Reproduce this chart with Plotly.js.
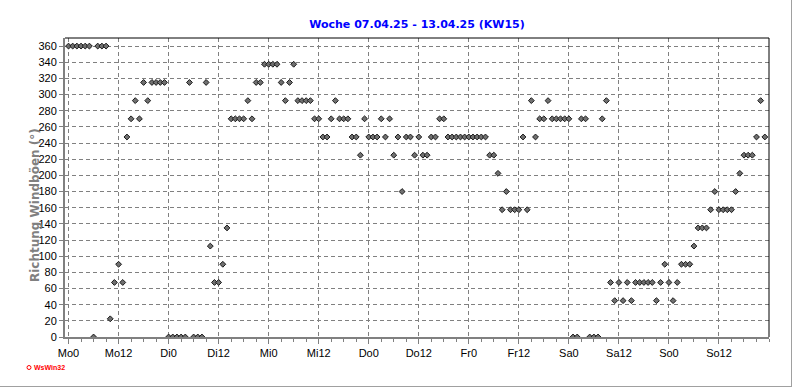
<!DOCTYPE html>
<html>
<head>
<meta charset="utf-8">
<script src="https://cdn.plot.ly/plotly-3.0.1.min.js"></script>
<style>
  html, body { margin:0; padding:0; background:#fff; }
  #wrap { position:relative; width:792px; height:387px; }
  #chart { position:absolute; left:0; top:0; width:792px; height:387px; }
  #frame { position:absolute; left:0; top:0; width:791px; height:386px;
           border-right:1px solid #a0a0a0; border-bottom:1px solid #a0a0a0; pointer-events:none; }
</style>
</head>
<body>
<div id="wrap"><div id="chart"></div><div id="frame"></div></div>
<script>
// Hourly gust direction (degrees), one array per day, hours 0..23
const dayNames = ["Mo", "Di", "Mi", "Do", "Fr", "Sa", "So"];
const mo = [360,360,360,360,360,360,0,360,360,360,22.5,67.5,90,67.5,247.5,270,292.5,270,315,292.5,315,315,315,315];
const di = [0,0,0,0,0,315,0,0,0,315,112.5,67.5,67.5,90,135,270,270,270,270,292.5,270,315,315,337.5];
const mi = [337.5,337.5,337.5,315,292.5,315,337.5,292.5,292.5,292.5,292.5,270,270,247.5,247.5,270,292.5,270,270,270,247.5,247.5,225,270];
const dn = [247.5,247.5,247.5,270,247.5,270,225,247.5,180,247.5,247.5,225,247.5,225,225,247.5,247.5,270,270,247.5,247.5,247.5,247.5,247.5];
const fr = [247.5,247.5,247.5,247.5,247.5,225,225,202.5,157.5,180,157.5,157.5,157.5,247.5,157.5,292.5,247.5,270,270,292.5,270,270,270,270];
const sa = [270,0,0,270,270,0,0,0,270,292.5,67.5,45,67.5,45,67.5,45,67.5,67.5,67.5,67.5,67.5,45,67.5,90];
const so = [67.5,45,67.5,90,90,90,112.5,135,135,135,157.5,180,157.5,157.5,157.5,157.5,180,202.5,225,225,225,247.5,292.5,247.5];
const tickHours = [0,12,24,36,48,60,72,84,96,108,120,132,144,156];
const tickLabels = ["Mo0","Mo12","Di0","Di12","Mi0","Mi12","Do0","Do12","Fr0","Fr12","Sa0","Sa12","So0","So12"];
const yTicks = [0,20,40,60,80,100,120,140,160,180,200,220,240,260,280,300,320,340,360];

const days = [mo, di, mi, dn, fr, sa, so];
const xs = [], ys = [];
days.forEach((arr, d) => arr.forEach((v, h) => { xs.push(d * 24 + h); ys.push(v); }));

const L = 65, R = 23, T = 38, B = 50;
const W = 792, H = 387;
const pw = W - L - R, ph = H - T - B;
const px = x => (x - L) / pw;
const py = y => (H - B - y) / ph;

const font = "Liberation Sans, Arial, sans-serif";
const boldFont = "DejaVu Sans, Verdana, sans-serif";

const trace = {
  x: xs, y: ys, type: "scatter", mode: "markers",
  marker: { symbol: "diamond", size: 4.5, color: "#707070", line: { color: "#1a1a1a", width: 1 } },
  cliponaxis: true, hoverinfo: "skip"
};

const layout = {
  width: W, height: H,
  margin: { l: L, r: R, t: T, b: B, pad: 0 },
  paper_bgcolor: "#ffffff", plot_bgcolor: "#ffffff",
  showlegend: false,
  font: { family: font, size: 11, color: "#000" },
  title: { text: "<b>Woche 07.04.25 - 13.04.25 (KW15)</b>", font: { family: boldFont, size: 11, color: "#0000ff" },
           x: 0.5, xref: "paper", xanchor: "center", y: 1 - 24 / H, yref: "container", yanchor: "middle" },
  xaxis: {
    range: [-0.85, 168], tickmode: "array", tickvals: tickHours, ticktext: tickLabels,
    ticks: "outside", ticklen: 5, tickcolor: "#808080", tickwidth: 1,
    showline: true, linecolor: "#808080", linewidth: 2,
    showgrid: true, gridcolor: "#808080", gridwidth: 1, griddash: "4px,3px",
    zeroline: false, tickfont: { family: font, size: 11, color: "#000" },
    minor: { tickmode: "linear", tick0: 0, dtick: 3, ticks: "outside", ticklen: 3, tickcolor: "#808080", showgrid: false },
    fixedrange: true
  },
  yaxis: {
    range: [0, 370], tickmode: "array", tickvals: yTicks,
    ticks: "outside", ticklen: 4, tickcolor: "#808080", tickwidth: 1,
    showline: true, linecolor: "#808080", linewidth: 2,
    showgrid: true, gridcolor: "#808080", gridwidth: 1, griddash: "4px,3px",
    zeroline: false, tickfont: { family: font, size: 11, color: "#000" },
    fixedrange: true
  },
  shapes: [
    { type: "line", xref: "paper", yref: "paper", x0: 0, x1: 1, y0: 1, y1: 1, line: { color: "#000", width: 1 } },
    { type: "line", xref: "paper", yref: "paper", x0: 1, x1: 1, y0: 0, y1: 1, line: { color: "#000", width: 1 } },
    { type: "circle", xref: "paper", yref: "paper", x0: px(27), x1: px(31), y0: py(369.5), y1: py(365.5),
      line: { color: "#ff0000", width: 1 }, fillcolor: "#ffffff" }
  ],
  annotations: [
    { text: "<b>Richtung Windböen (°)</b>", xref: "paper", yref: "paper", x: px(35), y: py(205),
      xanchor: "center", yanchor: "middle", textangle: -90, showarrow: false,
      font: { family: boldFont, size: 12, color: "#808080" } },
    { text: "<b>WsWin32</b>", xref: "paper", yref: "paper", x: px(32), y: py(367.5),
      xanchor: "left", yanchor: "middle", showarrow: false,
      font: { family: font, size: 7, color: "#ff0000" } }
  ]
};

Plotly.newPlot("chart", [trace], layout, { displayModeBar: false, staticPlot: true });
</script>
</body>
</html>
